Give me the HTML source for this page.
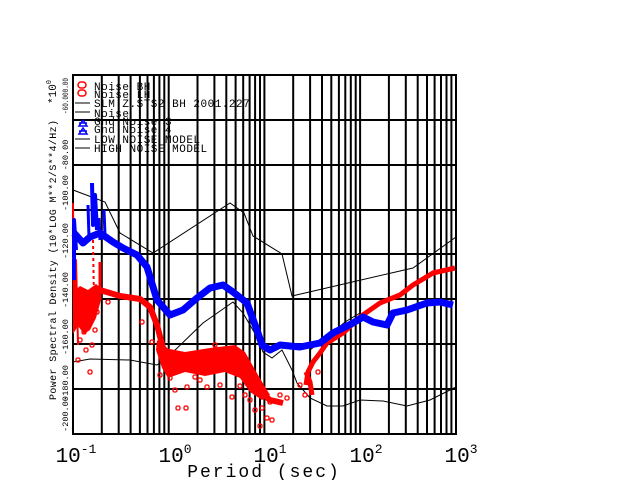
<!DOCTYPE html>
<html><head><meta charset="utf-8"><style>
html,body{margin:0;padding:0;background:#fff;}
svg{display:block;}
text{font-family:"Liberation Mono",monospace;}
</style></head><body>
<svg width="640" height="480" viewBox="0 0 640 480" xmlns="http://www.w3.org/2000/svg">
<rect width="640" height="480" fill="#fff"/>
<g stroke="#000" stroke-width="2" fill="none">
<rect x="73" y="75" width="383" height="359"/>
<path d="M73,120H456M73,165H456M73,210H456M73,254H456M73,299H456M73,344H456M73,389H456"/>
<path d="M101.8,75V434M118.7,75V434M130.6,75V434M139.9,75V434M147.5,75V434M153.9,75V434M159.4,75V434M164.3,75V434
M168.7,75V434M197.5,75V434M214.4,75V434M226.3,75V434M235.6,75V434M243.2,75V434M249.6,75V434M255.1,75V434M260,75V434
M264.4,75V434M293.2,75V434M310.1,75V434M322,75V434M331.3,75V434M338.9,75V434M345.3,75V434M350.8,75V434M355.7,75V434
M360.1,75V434M388.9,75V434M405.8,75V434M417.7,75V434M427,75V434M434.6,75V434M441,75V434M446.5,75V434M451.4,75V434"/>
</g>
<!-- models -->
<polyline fill="none" stroke="#000" stroke-width="1" points="73,190 105,202 120,233 153,253 230,203 244,213 253,236 282,254 292,296 413,268 456,237"/>
<polyline fill="none" stroke="#000" stroke-width="1" points="73,362 90,359 130,360 157,365 170,355 203,323 233,302 243,313 257,337 263,352 272,358 282,350 292,370 297,383 310,398 327,406 343,406 360,400 383,401 407,406 430,400 456,387"/>
<polyline fill="none" stroke="#000" stroke-width="1" points="310,350 327,337 345,322 360,313"/>
<!-- red -->
<g fill="none" stroke="#f00" stroke-linejoin="round">
<polygon fill="#f00" stroke="none" points="73,292 80,286 88,290 96,284 101,288 101,300 96,318 90,330 84,334 78,326 73,334"/>
<polygon fill="#f00" stroke="none" points="157,340 165,348 185,352 210,348 235,345 245,352 258,375 270,395 262,400 250,392 240,378 225,372 205,376 185,372 168,378 162,368 156,350"/>
<polyline stroke-width="6" points="100,290 120,296 140,299 150,307 157,325 163,348 175,360 200,357 225,352 240,358 248,372 258,390 270,400 283,403"/>
<polyline stroke-width="5" points="306,385 308,372 313,362 320,353 327,343 343,333 360,317 380,303 400,295 413,285 433,273 455,268"/>
<polyline stroke-width="5" points="306,372 310,382 312,395"/>
<polyline stroke-width="2" points="73,203 74,330 76,260 78,345"/>
<polyline stroke-width="2" stroke-dasharray="3,3" points="93,240 94,300"/>
<polyline stroke-width="3" points="100,262 100,300"/>
<g stroke-width="1.3">
<rect x="78" y="338" width="4" height="4" rx="1.5"/><rect x="84" y="348" width="4" height="4" rx="1.5"/>
<rect x="90" y="343" width="4" height="4" rx="1.5"/><rect x="76" y="358" width="4" height="4" rx="1.5"/>
<rect x="88" y="370" width="4" height="4" rx="1.5"/><rect x="93" y="328" width="4" height="4" rx="1.5"/>
<rect x="82" y="330" width="4" height="4" rx="1.5"/><rect x="158" y="373" width="4" height="4" rx="1.5"/>
<rect x="168" y="376" width="4" height="4" rx="1.5"/><rect x="173" y="388" width="4" height="4" rx="1.5"/>
<rect x="176" y="406" width="4" height="4" rx="1.5"/><rect x="184" y="406" width="4" height="4" rx="1.5"/>
<rect x="198" y="378" width="4" height="4" rx="1.5"/><rect x="208" y="368" width="4" height="4" rx="1.5"/>
<rect x="218" y="383" width="4" height="4" rx="1.5"/><rect x="228" y="363" width="4" height="4" rx="1.5"/>
<rect x="238" y="384" width="4" height="4" rx="1.5"/><rect x="243" y="393" width="4" height="4" rx="1.5"/>
<rect x="248" y="398" width="4" height="4" rx="1.5"/><rect x="253" y="408" width="4" height="4" rx="1.5"/>
<rect x="260" y="406" width="4" height="4" rx="1.5"/><rect x="265" y="416" width="4" height="4" rx="1.5"/>
<rect x="268" y="400" width="4" height="4" rx="1.5"/><rect x="278" y="393" width="4" height="4" rx="1.5"/>
<rect x="285" y="396" width="4" height="4" rx="1.5"/><rect x="256" y="378" width="4" height="4" rx="1.5"/>
<rect x="213" y="343" width="4" height="4" rx="1.5"/><rect x="193" y="375" width="4" height="4" rx="1.5"/>
<rect x="163" y="363" width="4" height="4" rx="1.5"/><rect x="298" y="383" width="4" height="4" rx="1.5"/>
<rect x="303" y="393" width="4" height="4" rx="1.5"/><rect x="316" y="370" width="4" height="4" rx="1.5"/>
<rect x="270" y="418" width="4" height="4" rx="1.5"/><rect x="258" y="424" width="4" height="4" rx="1.5"/>
<rect x="205" y="385" width="4" height="4" rx="1.5"/><rect x="185" y="385" width="4" height="4" rx="1.5"/>
<rect x="230" y="395" width="4" height="4" rx="1.5"/><rect x="150" y="340" width="4" height="4" rx="1.5"/>
<rect x="140" y="320" width="4" height="4" rx="1.5"/><rect x="106" y="300" width="4" height="4" rx="1.5"/>
<rect x="178" y="360" width="4" height="4" rx="1.5"/><rect x="190" y="365" width="4" height="4" rx="1.5"/>
<rect x="220" y="360" width="4" height="4" rx="1.5"/><rect x="245" y="365" width="4" height="4" rx="1.5"/>
<rect x="80" y="318" width="4" height="4" rx="1.5"/><rect x="95" y="310" width="4" height="4" rx="1.5"/>
</g>
</g>
<!-- blue -->
<g fill="none" stroke="#0000ff" stroke-linejoin="round">
<polyline stroke-width="7" points="74,233 83,243 90,237 100,233 113,242 123,248 137,255 147,267 157,300 170,315 183,310 197,298 210,288 223,285 233,292 247,303 257,330 262,345 270,350 280,345 300,347 320,343 333,333 353,323 363,317 373,322 387,325 393,313 407,310 427,303 440,302 453,305"/>
<polyline stroke-width="4" points="74,280 74,220 76,250"/>
<polyline stroke-width="4" points="92,183 93,225 95,195 97,230"/>
<polyline stroke-width="3" points="88,205 89,238"/>
<polyline stroke-width="3" points="99,218 100,240"/>
<polyline stroke-width="3" points="104,210 105,235"/>
</g>
<!-- legend -->
<g font-size="11" fill="#000" letter-spacing="0.5">
<text x="94" y="90">Noise BH</text>
<text x="94" y="98">Noise LH</text>
<text x="94" y="107">SLM.Z.STS2 BH  2001.227</text>
<text x="94" y="117">Noise</text>
<text x="94" y="125">Gnd Noise 3</text>
<text x="94" y="133">Gnd Noise 4</text>
<text x="94" y="143">LOW NOISE MODEL</text>
<text x="94" y="152">HIGH NOISE MODEL</text>
</g>
<g fill="none" stroke-width="1.5">
<rect x="78" y="82" width="8" height="6" rx="3" stroke="#f00"/>
<rect x="78" y="90" width="8" height="6" rx="3" stroke="#f00"/>
<path d="M79,126 L83,120 L87,126 Z M79,123 H87" stroke="#00f"/>
<path d="M79,134 L83,128 L87,134 Z M79,131 H87" stroke="#00f"/>
</g>
<g stroke="#000" stroke-width="1">
<line x1="75" x2="90" y1="103" y2="103"/><line x1="75" x2="90" y1="112" y2="112"/>
<line x1="75" x2="90" y1="139" y2="139"/><line x1="75" x2="90" y1="148" y2="148"/>
</g>
<!-- y labels -->
<g font-size="8.5" fill="#000" text-anchor="middle">
<text transform="translate(68,96) rotate(-90)" textLength="36" lengthAdjust="spacingAndGlyphs">-60.000.00</text>
<text transform="translate(68,155) rotate(-90)">-80.00</text>
<text transform="translate(68,193) rotate(-90)">-100.00</text>
<text transform="translate(68,241) rotate(-90)">-120.00</text>
<text transform="translate(68,290) rotate(-90)">-140.00</text>
<text transform="translate(68,337) rotate(-90)">-160.00</text>
<text transform="translate(68,383) rotate(-90)">-180.00</text>
<text transform="translate(68,414) rotate(-90)">-200.00</text>
</g>
<g font-size="10" fill="#000">
<text transform="translate(56,400) rotate(-90)" textLength="280" lengthAdjust="spacing">Power Spectral Density (10*LOG M**2/S**4/Hz)</text>
<text transform="translate(56,104) rotate(-90)" font-size="11">*10<tspan font-size="7" dy="-5">0</tspan></text>
</g>
<g font-size="21" fill="#000">
<text x="76" y="462" text-anchor="middle">10<tspan font-size="13" dy="-9">-1</tspan></text>
<text x="175" y="462" text-anchor="middle">10<tspan font-size="13" dy="-9">0</tspan></text>
<text x="270" y="462" text-anchor="middle">10<tspan font-size="13" dy="-9">1</tspan></text>
<text x="366" y="462" text-anchor="middle">10<tspan font-size="13" dy="-9">2</tspan></text>
<text x="461" y="462" text-anchor="middle">10<tspan font-size="13" dy="-9">3</tspan></text>
<text x="264" y="477" text-anchor="middle" font-size="18" letter-spacing="2">Period (sec)</text>
</g>
</svg>
</body></html>
